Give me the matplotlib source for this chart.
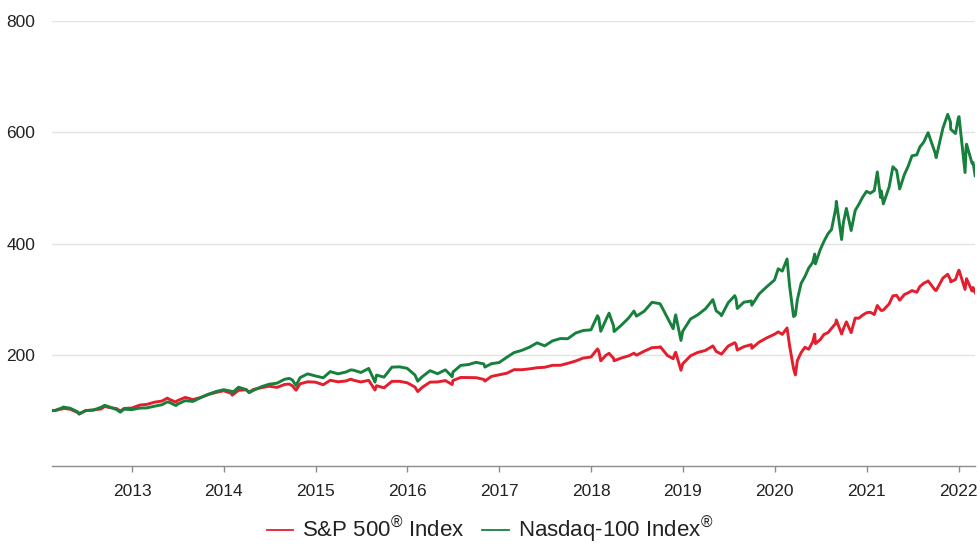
import numpy as np
import pandas as pd
import matplotlib
matplotlib.use("Agg")
import matplotlib.pyplot as plt
import matplotlib.dates as mdates
from matplotlib.lines import Line2D

# ---------- data (index, start = 100) ----------
START = "2012-02-17"
END = "2022-03-08"

# month-end values, Feb 2012 .. Feb 2022
sp500_monthly = [
    100.3, 103.4, 102.6, 96.2, 100.0, 101.2, 103.2, 105.8, 103.7, 104.0, 104.7,
    110.0, 111.2, 115.2, 117.3, 119.8, 117.9, 123.8, 119.9, 123.5, 129.0, 132.6, 135.7,
    130.9, 136.5, 137.4, 138.3, 141.3, 143.9, 141.8, 147.1, 144.8, 148.2, 151.8, 151.2,
    146.5, 154.6, 151.8, 153.2, 154.7, 151.5, 154.5, 144.8, 141.0, 152.6, 152.7, 150.1,
    142.4, 141.9, 151.2, 151.6, 154.0, 154.1, 159.6, 159.4, 159.2, 156.1, 161.5, 164.4,
    167.3, 173.6, 173.5, 175.0, 177.1, 177.9, 181.4, 181.5, 185.0, 189.1, 194.4, 196.3,
    207.3, 199.3, 193.9, 194.4, 198.6, 199.6, 206.8, 213.1, 213.9, 199.1, 202.6, 184.1,
    198.5, 204.4, 208.1, 216.3, 202.1, 216.0, 218.8, 214.8, 218.6, 223.1, 230.6, 237.2,
    236.9, 216.9, 189.8, 213.8, 223.5, 227.6, 240.2, 257.0, 246.9, 240.1, 265.9, 275.8,
    272.7, 279.8, 291.7, 307.0, 308.7, 315.6, 322.7, 332.1, 316.3, 338.1, 335.3, 349.9,
    331.6, 321.1,
]
nasdaq_monthly = [
    100.3, 105.6, 104.3, 97.4, 100.2, 101.1, 106.2, 107.2, 101.9, 102.6, 101.9,
    104.6, 104.9, 108.0, 110.7, 114.5, 111.5, 117.9, 116.6, 123.3, 129.4, 134.3, 137.6,
    134.8, 142.1, 137.8, 136.8, 143.1, 147.5, 149.3, 156.4, 155.2, 159.3, 166.1, 162.3,
    159.0, 170.2, 166.1, 169.2, 172.7, 168.5, 175.8, 163.8, 160.2, 178.1, 178.7, 176.0,
    164.0, 161.0, 171.8, 166.3, 173.3, 169.3, 181.3, 182.8, 186.8, 183.9, 184.3, 186.4,
    196.1, 204.2, 208.3, 213.9, 221.8, 216.4, 225.3, 229.4, 229.2, 239.4, 243.9, 245.1,
    266.2, 262.6, 252.1, 253.1, 266.9, 269.7, 278.6, 294.6, 292.2, 266.9, 266.2, 242.5,
    264.6, 271.9, 282.7, 299.4, 273.1, 293.9, 300.7, 294.7, 296.9, 309.7, 322.3, 334.6,
    350.6, 324.2, 299.3, 340.6, 366.1, 389.2, 417.8, 464.0, 437.5, 423.4, 470.0, 493.8,
    495.2, 494.6, 501.6, 531.1, 524.4, 557.6, 573.2, 597.0, 562.8, 607.3, 618.2, 625.3,
    572.0, 545.5,
]

# intra-month highs / lows visible in the chart
event_dates = [
    "2012-02-17", "2012-04-02", "2012-06-04", "2012-09-14", "2012-11-15",
    "2013-05-21", "2013-06-24", "2014-02-03", "2014-04-11", "2014-09-18",
    "2014-10-15", "2015-05-21", "2015-08-25", "2016-02-11", "2016-06-27",
    "2016-11-04", "2018-01-26", "2018-02-08", "2018-03-13", "2018-04-02",
    "2018-06-20", "2018-10-03", "2018-11-23", "2018-12-03", "2018-12-24",
    "2019-05-13", "2019-06-03", "2019-07-26", "2019-08-05", "2019-10-02",
    "2020-01-15", "2020-02-19", "2020-03-16", "2020-03-23", "2020-04-15",
    "2020-05-15", "2020-06-08", "2020-06-11", "2020-07-15", "2020-08-14",
    "2020-09-02", "2020-09-23", "2020-10-12", "2020-11-16", "2020-12-15",
    "2021-01-15", "2021-02-12", "2021-02-25", "2021-03-08", "2021-04-15",
    "2021-05-12", "2021-06-15", "2021-07-19", "2021-08-16", "2021-09-02",
    "2021-10-04", "2021-11-19", "2021-12-01", "2021-12-20", "2022-01-03",
    "2022-01-27", "2022-02-02", "2022-02-24", "2022-03-08",
]
sp500_events = [
    100.0, 104.2, 93.8, 107.6, 99.3,
    122.5, 115.5, 127.8, 133.3, 147.7,
    136.7, 156.5, 137.1, 134.3, 146.9,
    153.1, 210.9, 189.5, 203.0, 189.6,
    203.2, 214.8, 193.3, 204.8, 172.6,
    206.5, 201.5, 222.1, 208.8, 212.0,
    241.5, 248.6, 175.2, 164.2, 204.3,
    210.3, 237.3, 220.4, 236.9, 247.7,
    262.8, 237.7, 259.5, 266.3, 271.3,
    276.7, 288.8, 281.1, 280.5, 306.2,
    298.3, 311.7, 312.6, 328.9, 333.1,
    315.7, 344.9, 331.3, 335.4, 352.2,
    317.7, 337.0, 314.8, 312.0,
]
nasdaq_events = [
    100.0, 106.5, 94.3, 109.6, 97.3,
    115.7, 109.2, 131.8, 132.2, 157.9,
    145.2, 173.2, 151.3, 152.9, 160.9,
    178.2, 270.5, 242.5, 275.1, 242.1,
    278.9, 291.2, 247.1, 272.0, 226.1,
    279.3, 270.5, 306.5, 283.5, 289.3,
    354.8, 372.3, 269.0, 271.5, 328.7,
    355.9, 381.2, 363.6, 404.2, 425.3,
    475.9, 407.3, 463.1, 459.4, 482.8,
    490.4, 528.7, 482.8, 471.3, 537.9,
    498.1, 539.1, 559.4, 582.4, 599.2,
    554.4, 632.0, 605.4, 597.7, 628.0,
    527.6, 578.5, 544.0, 522.0,
]

year_ticks = list(range(2013, 2023))
y_ticks = [200, 400, 600, 800]

RED = "#e41e2d"
GREEN = "#17803d"

# ---------- build series ----------
monthly_dates = pd.date_range("2012-02-29", periods=len(sp500_monthly), freq="ME")
df = pd.concat([
    pd.DataFrame({"date": monthly_dates, "sp": sp500_monthly, "nq": nasdaq_monthly}),
    pd.DataFrame({"date": pd.to_datetime(event_dates), "sp": sp500_events, "nq": nasdaq_events}),
]).sort_values("date")

# ---------- plot ----------
plt.rcParams["font.family"] = ["Liberation Sans", "DejaVu Sans"]
plt.rcParams["mathtext.fontset"] = "custom"
plt.rcParams["mathtext.rm"] = "Liberation Sans"

fig = plt.figure(figsize=(9.8, 5.48), dpi=100)
ax = fig.add_axes([0.053, 0.149, 0.942, 0.813])

ax.plot(df["date"], df["sp"], color=RED, lw=2.1, solid_joinstyle="round")
ax.plot(df["date"], df["nq"], color=GREEN, lw=2.1, solid_joinstyle="round")

ax.set_xlim(pd.Timestamp(START), pd.Timestamp(END))
ax.set_ylim(0, 800)
ax.set_yticks(y_ticks)
ax.set_xticks([pd.Timestamp(f"{y}-01-01") for y in year_ticks])
ax.xaxis.set_major_formatter(mdates.DateFormatter("%Y"))

for s in ("top", "right", "left"):
    ax.spines[s].set_visible(False)
ax.spines["bottom"].set_color("#8c8c8c")
ax.spines["bottom"].set_linewidth(1.0)

ax.grid(axis="y", color="#e3e3e3", lw=1.0)
ax.set_axisbelow(True)
ax.tick_params(axis="y", length=0, pad=12, labelsize=12.5, labelcolor="#222222")
ax.tick_params(axis="x", length=4, width=1, color="#8c8c8c", pad=9, labelsize=12.5, labelcolor="#222222")

handles = [Line2D([0], [0], color=RED, lw=1.3), Line2D([0], [0], color=GREEN, lw=1.3)]
labels = ["S&P 500$^{®}$ Index", "Nasdaq-100 Index$^{®}$"]
fig.legend(handles, labels, loc="lower center", bbox_to_anchor=(0.5, -0.03), ncol=2,
           frameon=False, fontsize=16, handlelength=1.2, handletextpad=0.4,
           columnspacing=0.8, labelcolor="#222222")

fig.savefig("out.png", dpi=100)
